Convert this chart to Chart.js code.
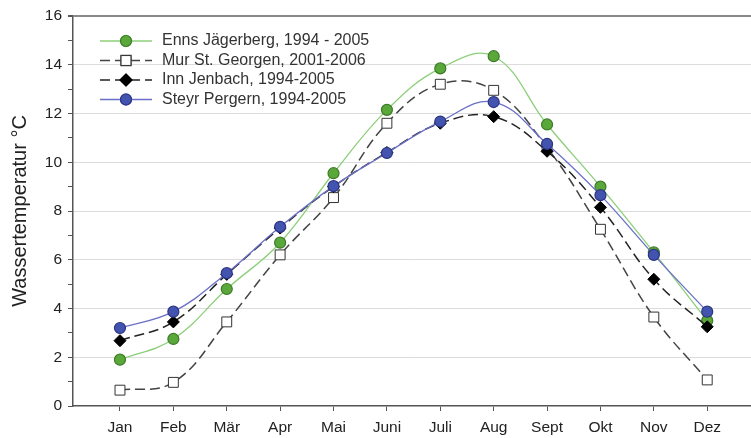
<!DOCTYPE html>
<html>
<head>
<meta charset="utf-8">
<script src="https://cdn.jsdelivr.net/npm/chart.js@4.4.1/dist/chart.umd.min.js"></script>
<style>
    html, body { margin: 0; padding: 0; background: #fff; }
    #wrap { width: 751px; height: 438px; }
</style>
</head>
<body>
<div id="wrap"><canvas id="chart" width="751" height="438"></canvas></div>
<script>
// Month labels on the x axis
const months = ['Jan', 'Feb', 'Mär', 'Apr', 'Mai', 'Juni', 'Juli', 'Aug', 'Sept', 'Okt', 'Nov', 'Dez'];

// Mean monthly water temperature (°C)
const enns = [1.9, 2.75, 4.8, 6.7, 9.55, 12.15, 13.85, 14.35, 11.55, 9.0, 6.3, 3.5];
const mur = [0.65, 0.97, 3.45, 6.2, 8.55, 11.6, 13.2, 12.95, 10.6, 7.25, 3.65, 1.07];
const inn = [2.68, 3.45, 5.4, 7.3, 9.0, 10.4, 11.6, 11.87, 10.45, 8.15, 5.2, 3.25];
const steyr = [3.2, 3.87, 5.45, 7.35, 9.02, 10.38, 11.67, 12.47, 10.75, 8.65, 6.2, 3.87];

const yTicks = [0, 2, 4, 6, 8, 10, 12, 14, 16];

const toPoints = arr => arr.map((v, i) => ({ x: i + 1, y: v }));

const FONT = 'Liberation Sans, Arial, sans-serif';

// Legend drawn inside the plot, top-left, like the original
const insideLegend = {
    id: 'insideLegend',
    afterDatasetsDraw(chart) {
        const ctx = chart.ctx;
        const x0 = 100, x1 = 152;
        let y = 41;
        ctx.save();
        chart.data.datasets.forEach(ds => {
            ctx.strokeStyle = ds.borderColor;
            ctx.lineWidth = ds.borderWidth;
            ctx.setLineDash(ds.borderDash || []);
            ctx.beginPath();
            ctx.moveTo(x0, y);
            ctx.lineTo(x1, y);
            ctx.stroke();
            ctx.setLineDash([]);
            Chart.helpers.drawPoint(ctx, {
                pointStyle: ds.pointStyle,
                radius: ds.pointRadius,
                borderWidth: ds.pointBorderWidth,
                rotation: 0
            }, (x0 + x1) / 2, y);
            ctx.fillStyle = ds.pointBackgroundColor;
            ctx.strokeStyle = ds.pointBorderColor;
            ctx.lineWidth = ds.pointBorderWidth;
            ctx.fill();
            ctx.stroke();
            ctx.fillStyle = '#333';
            ctx.font = '16px ' + FONT;
            ctx.textBaseline = 'middle';
            ctx.fillText(ds.label, 162, y);
            y += 19.5;
        });
        ctx.restore();
    }
};

const config = {
    type: 'line',
    data: {
        datasets: [
            {
                label: 'Enns Jägerberg, 1994 - 2005',
                data: toPoints(enns),
                order: 4,
                borderColor: '#8ccf78',
                borderWidth: 1.3,
                tension: 0.4,
                pointStyle: 'circle',
                pointRadius: 5.5,
                pointBackgroundColor: '#5aa83a',
                pointBorderColor: '#3d7a28',
                pointBorderWidth: 1.2
            },
            {
                label: 'Mur St. Georgen, 2001-2006',
                data: toPoints(mur),
                order: 3,
                borderColor: '#444444',
                borderWidth: 1.5,
                borderDash: [10, 5],
                tension: 0.4,
                pointStyle: 'rect',
                pointRadius: 7,
                pointBackgroundColor: '#ffffff',
                pointBorderColor: '#333333',
                pointBorderWidth: 1
            },
            {
                label: 'Inn Jenbach, 1994-2005',
                data: toPoints(inn),
                order: 2,
                borderColor: '#222222',
                borderWidth: 1.5,
                borderDash: [10, 5],
                tension: 0.4,
                pointStyle: 'rectRot',
                pointRadius: 6,
                pointBackgroundColor: '#000000',
                pointBorderColor: '#000000',
                pointBorderWidth: 1
            },
            {
                label: 'Steyr Pergern, 1994-2005',
                data: toPoints(steyr),
                order: 1,
                borderColor: '#6a70c8',
                borderWidth: 1.3,
                tension: 0.4,
                pointStyle: 'circle',
                pointRadius: 5.5,
                pointBackgroundColor: '#4354b0',
                pointBorderColor: '#2c3580',
                pointBorderWidth: 1.2
            }
        ]
    },
    options: {
        responsive: false,
        animation: false,
        layout: { autoPadding: false, padding: { top: 16, right: 0, left: 0, bottom: 0 } },
        plugins: {
            legend: { display: false },
            tooltip: { enabled: false }
        },
        scales: {
            x: {
                type: 'linear',
                min: 0.12,
                max: 12.82,
                afterBuildTicks: scale => {
                    scale.ticks = months.map((m, i) => ({ value: i + 1 }));
                },
                afterFit: scale => {
                    scale.height = 32;
                    scale.paddingLeft = 0;
                    scale.paddingRight = 0;
                },
                ticks: {
                    callback: (v) => months[Math.round(v) - 1] || '',
                    color: '#222',
                    font: { family: FONT, size: 15.5 },
                    padding: 7,
                    maxRotation: 0,
                    autoSkip: false
                },
                grid: {
                    drawOnChartArea: false,
                    tickLength: 5,
                    tickColor: '#555',
                    tickWidth: 1
                },
                border: { color: '#555', width: 1.5 }
            },
            y: {
                min: 0,
                max: 16,
                afterBuildTicks: scale => {
                    const t = [];
                    for (let v = 0; v <= 16; v++) t.push({ value: v });
                    scale.ticks = t;
                },
                afterFit: scale => { scale.width = 73; },
                title: {
                    display: true,
                    text: 'Wassertemperatur °C',
                    color: '#222',
                    font: { family: FONT, size: 20 },
                    padding: { top: 8, bottom: 0 }
                },
                ticks: {
                    callback: (v) => yTicks.includes(v) ? String(v) : '',
                    color: '#222',
                    font: { family: FONT, size: 15.5 },
                    padding: 6
                },
                grid: {
                    tickLength: 5,
                    tickColor: '#555',
                    color: ctx => {
                        const v = ctx.tick && ctx.tick.value;
                        if (v === 16) return '#8a8a8a';
                        if (v === 0 || v % 2 !== 0) return 'rgba(0,0,0,0)';
                        return '#dcdcdc';
                    },
                    lineWidth: ctx => (ctx.tick && ctx.tick.value === 16) ? 2 : 1
                },
                border: { color: '#555', width: 1.5 }
            }
        }
    },
    plugins: [insideLegend]
};

new Chart(document.getElementById('chart'), config);
</script>
</body>
</html>
